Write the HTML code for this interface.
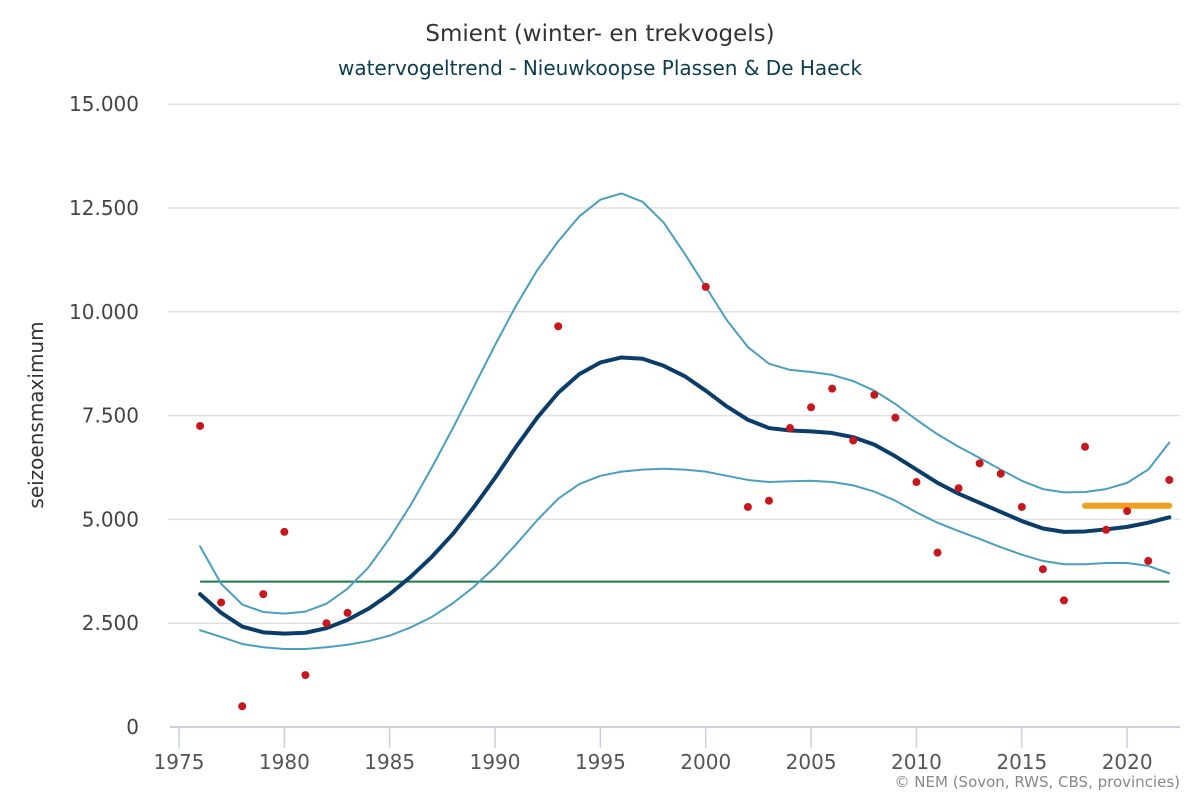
<!DOCTYPE html>
<html><head><meta charset="utf-8"><style>
body{margin:0;background:#fff;font-family:"Liberation Sans","DejaVu Sans",sans-serif}
svg text{font-family:"DejaVu Sans","Liberation Sans",sans-serif}
</style></head><body>
<svg id="c" width="1200" height="800" xmlns="http://www.w3.org/2000/svg"></svg>
<script>
const X=y=>179+(y-1975)*21.07, Y=v=>727-v*41.52;
const trend=[3.2,2.75,2.42,2.28,2.25,2.27,2.38,2.58,2.85,3.2,3.62,4.1,4.65,5.3,6.0,6.75,7.45,8.05,8.5,8.78,8.9,8.87,8.7,8.45,8.1,7.72,7.4,7.2,7.14,7.12,7.08,6.98,6.8,6.52,6.2,5.88,5.62,5.4,5.18,4.96,4.78,4.7,4.71,4.76,4.82,4.92,5.05];
const up=[4.35,3.45,2.95,2.77,2.73,2.78,2.97,3.33,3.85,4.55,5.35,6.25,7.2,8.2,9.2,10.15,11.0,11.7,12.3,12.7,12.85,12.65,12.15,11.4,10.6,9.8,9.15,8.75,8.6,8.55,8.48,8.33,8.1,7.78,7.4,7.05,6.75,6.48,6.2,5.93,5.73,5.65,5.66,5.73,5.88,6.2,6.85];
const lo=[2.33,2.17,2.0,1.92,1.88,1.88,1.92,1.98,2.07,2.2,2.4,2.65,2.98,3.38,3.85,4.4,4.98,5.5,5.85,6.05,6.15,6.2,6.22,6.2,6.15,6.05,5.95,5.9,5.92,5.93,5.9,5.82,5.67,5.45,5.17,4.92,4.72,4.53,4.33,4.15,4.0,3.92,3.92,3.95,3.95,3.88,3.7];
const dots={1976:7.25,1977:3.0,1978:0.5,1979:3.2,1980:4.7,1981:1.25,1982:2.5,1983:2.75,1993:9.65,2000:10.6,2002:5.3,2003:5.45,2004:7.2,2005:7.7,2006:8.15,2007:6.9,2008:8.0,2009:7.45,2010:5.9,2011:4.2,2012:5.75,2013:6.35,2014:6.1,2015:5.3,2016:3.8,2017:3.05,2018:6.75,2019:4.75,2020:5.2,2021:4.0,2022:5.95};
let s='';
s+='<text x="600" y="41" text-anchor="middle" font-size="23" fill="#333">Smient (winter- en trekvogels)</text>';
s+='<text x="600" y="75" text-anchor="middle" font-size="20" fill="#0b3d4f">watervogeltrend - Nieuwkoopse Plassen &amp; De Haeck</text>';
const labs=['0','2.500','5.000','7.500','10.000','12.500','15.000'];
for(let i=0;i<7;i++){const y=Y(i*2.5);
 if(i>0)s+=`<line x1="168" x2="1180" y1="${y}" y2="${y}" stroke="#e0e0e0" stroke-width="1.5"/>`;
 s+=`<text x="139" y="${y+7}" text-anchor="end" font-size="20" fill="#444">${labs[i]}</text>`;}
s+=`<line x1="170" x2="1180" y1="727" y2="727" stroke="#c9d3e0" stroke-width="2"/>`;
for(let yr=1975;yr<=2020;yr+=5){const x=X(yr);
 s+=`<line x1="${x}" x2="${x}" y1="727" y2="748" stroke="#c9d3e0" stroke-width="1.5"/>`;
 s+=`<text x="${x}" y="769" text-anchor="middle" font-size="20" fill="#555">${yr}</text>`;}
s+='<text transform="translate(43,415) rotate(-90)" text-anchor="middle" font-size="20" fill="#333">seizoensmaximum</text>';
s+=`<line x1="${X(1976)}" x2="${X(2022)}" y1="${Y(3.5)}" y2="${Y(3.5)}" stroke="#1b7a4a" stroke-width="2"/>`;
const pl=(a,c,w)=>`<polyline fill="none" stroke="${c}" stroke-width="${w}" stroke-linejoin="round" stroke-linecap="round" points="${a.map((v,i)=>X(1976+i)+','+Y(v)).join(' ')}"/>`;
s+=pl(up,'#4a9fc0',2)+pl(lo,'#4a9fc0',2)+pl(trend,'#0b3d6b',4);
s+=`<line x1="${X(2018)}" x2="${X(2022)}" y1="${Y(5.33)}" y2="${Y(5.33)}" stroke="#f0a01e" stroke-width="6" stroke-linecap="round"/>`;
for(const k in dots)s+=`<circle cx="${X(+k)}" cy="${Y(dots[k])}" r="4" fill="#c8161d"/>`;
s+='<text x="1180" y="787" text-anchor="end" font-size="15" fill="#888">© NEM (Sovon, RWS, CBS, provincies)</text>';
document.getElementById('c').innerHTML=s;
</script>
</body></html>
